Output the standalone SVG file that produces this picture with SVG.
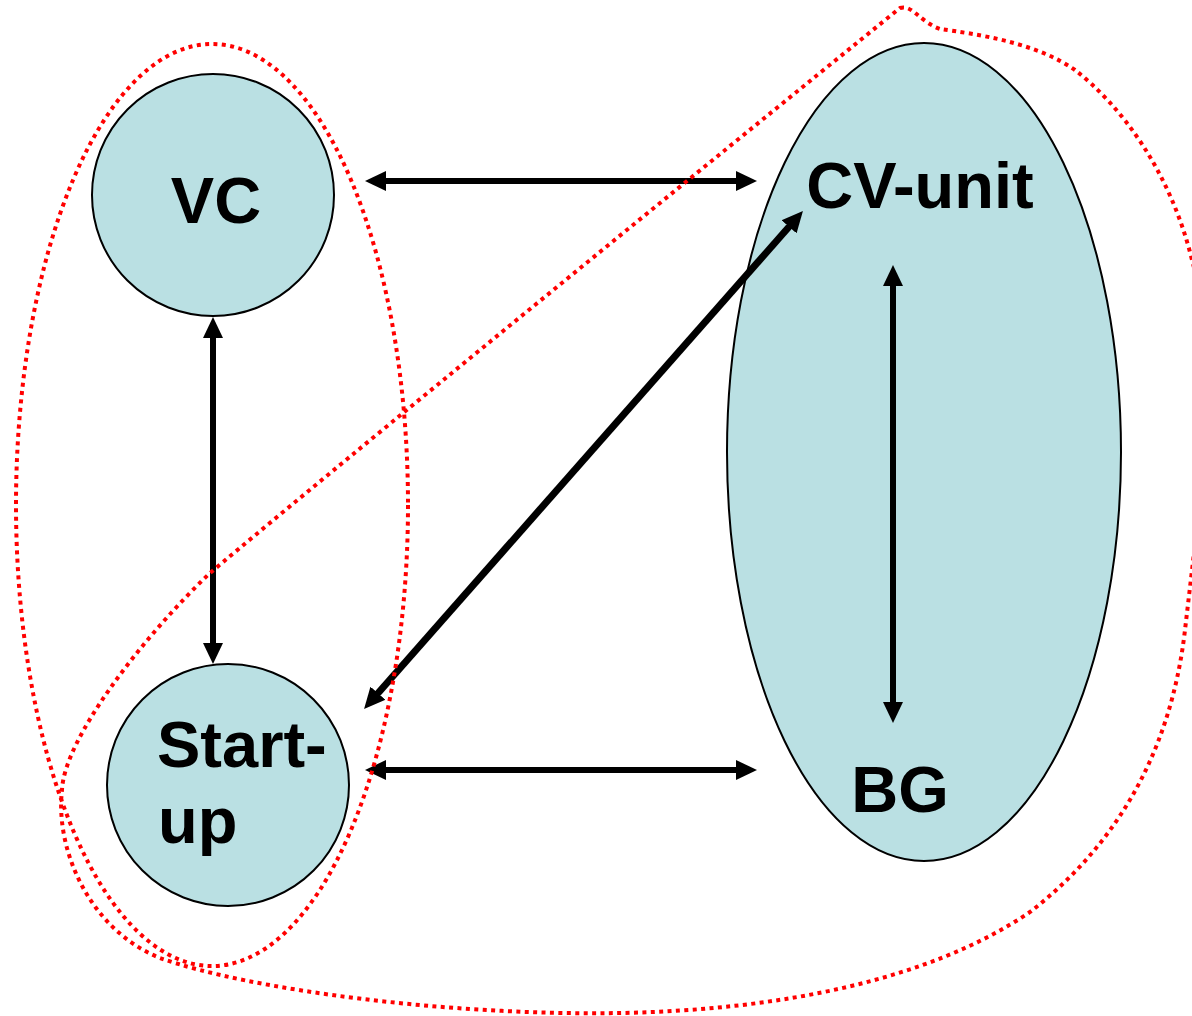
<svg xmlns="http://www.w3.org/2000/svg" width="1192" height="1016" viewBox="0 0 1192 1016">
  <style>
    .node { fill: #bae0e3; stroke: #000; stroke-width: 2; }
    .lbl { font-family: "Liberation Sans", Arial, Helvetica, sans-serif; font-weight: bold; font-size: 65px; fill: #000; }
    .conn { stroke: #000; stroke-width: 6; fill: none; marker-start: url(#ah); marker-end: url(#ah); }
    .thick { stroke-width: 7; }
    .loop { fill: none; stroke: #ff0000; stroke-width: 4; stroke-dasharray: 4 4.4; }
  </style>
  <defs>
    <marker id="ah" markerUnits="userSpaceOnUse" markerWidth="21" markerHeight="21" refX="9" refY="10" orient="auto-start-reverse" viewBox="0 0 21 20">
      <path d="M0,0 L21,10 L0,20 z" fill="#000"/>
    </marker>
  </defs>
  <rect width="1192" height="1016" fill="#fff"/>

  <g id="node-cvunit">
    <ellipse class="node" cx="924" cy="452" rx="197" ry="409"/>
    <text class="lbl" x="920" y="208" text-anchor="middle">CV-unit</text>
  </g>
  <g id="node-bg">
    <text class="lbl" x="900" y="812" text-anchor="middle">BG</text>
  </g>
  <g id="node-vc">
    <circle class="node" cx="213" cy="195" r="121"/>
    <text class="lbl" x="216" y="223" text-anchor="middle">VC</text>
  </g>
  <g id="node-startup">
    <circle class="node" cx="228" cy="785" r="121"/>
    <text class="lbl" x="157" y="767">Start-</text>
    <text class="lbl" x="158" y="843">up</text>
  </g>

  <g id="connectors">
    <line class="conn" x1="377" y1="181" x2="745" y2="181"/>
    <line class="conn" x1="377" y1="770" x2="745" y2="770"/>
    <line class="conn" x1="213" y1="329" x2="213" y2="652"/>
    <line class="conn" x1="893" y1="277" x2="893" y2="711"/>
    <line class="conn thick" x1="372" y1="700" x2="795" y2="220"/>
  </g>

  <g id="groupings">
    <ellipse class="loop" cx="212" cy="505" rx="196" ry="461"/>
    <path class="loop" d="M900,8 C912,4 920,22 940,29 C975,34 1035,42 1075,70 C1120,105 1170,170 1192,260 C1220,360 1200,500 1185,630 C1170,760 1110,850 1030,912 C930,980 780,1010 620,1013 C450,1016 250,990 160,958 C90,930 55,850 62,790 C64,740 140,640 210,573 C350,455 700,170 900,8 Z"/>
  </g>
</svg>
